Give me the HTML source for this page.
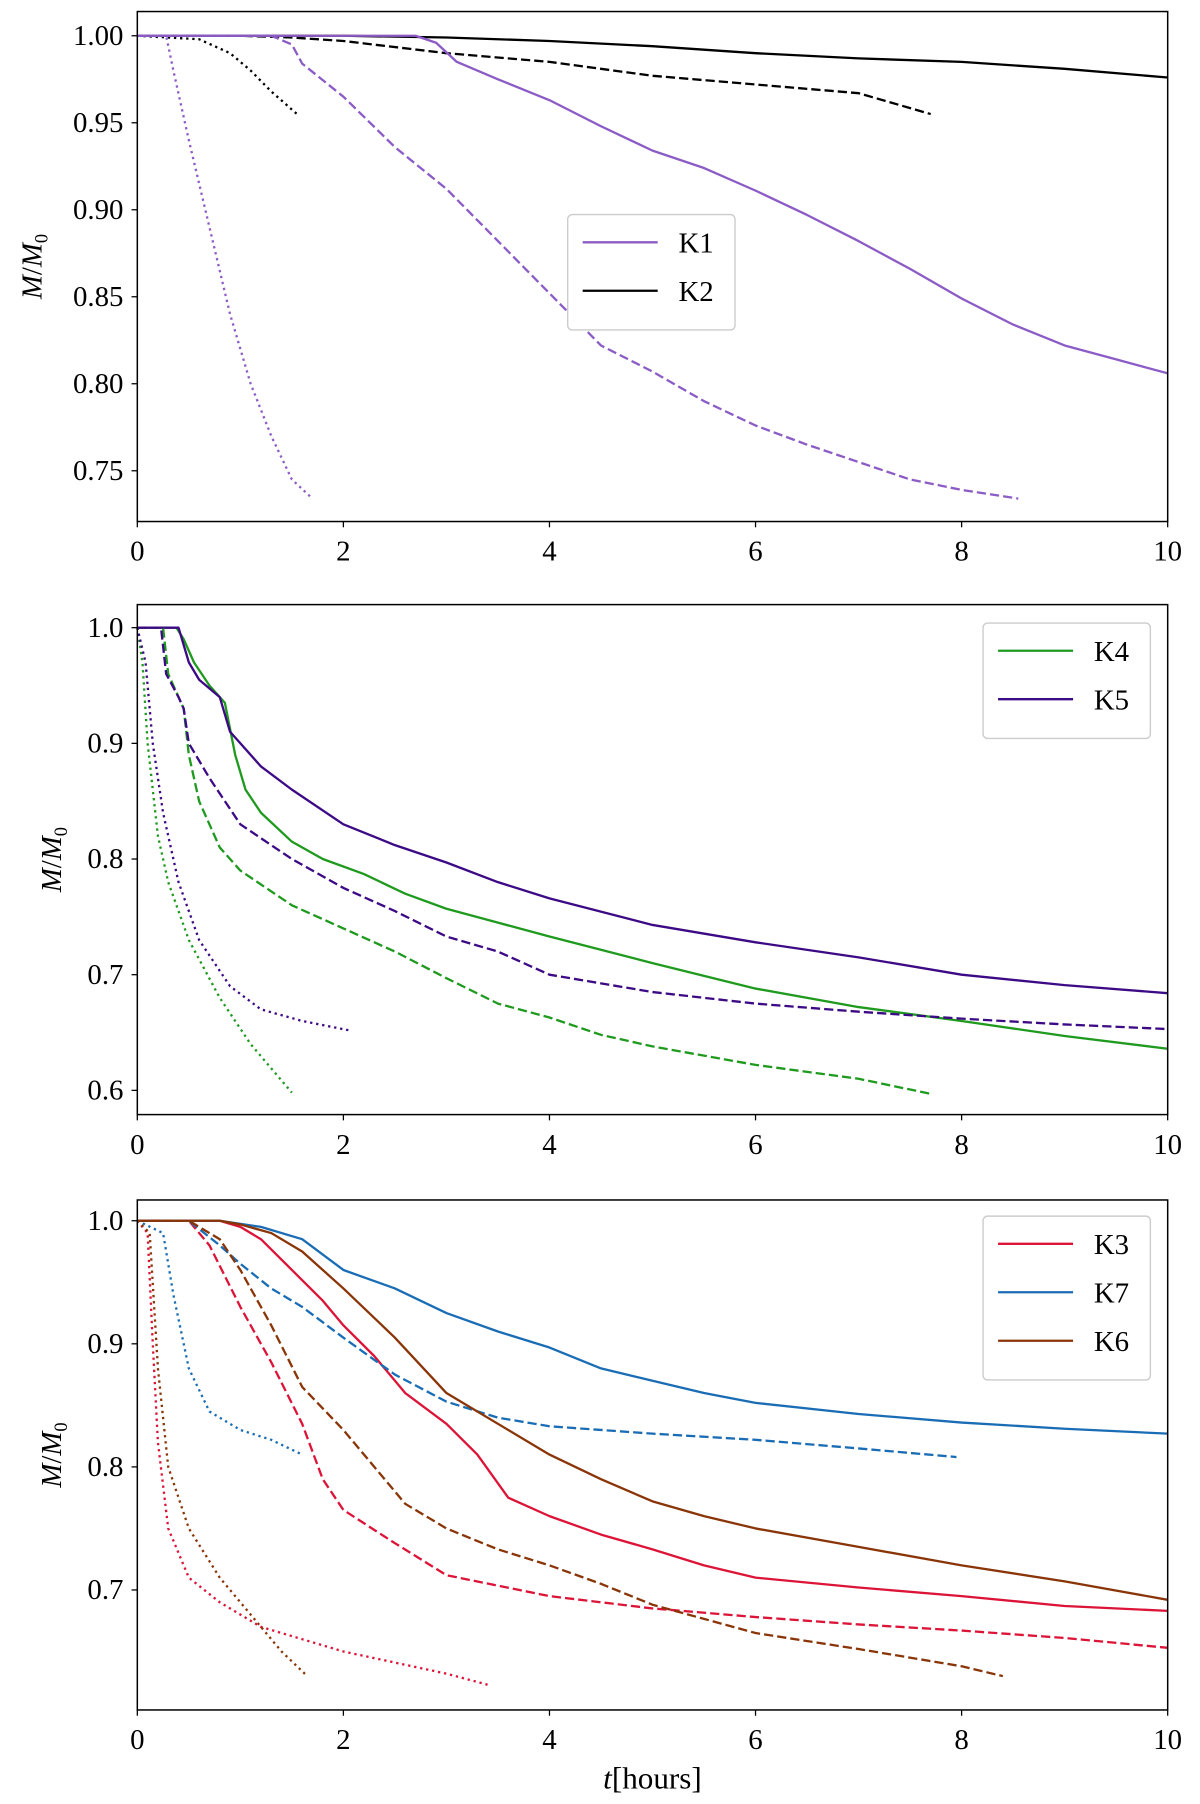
<!DOCTYPE html>
<html><head><meta charset="utf-8"><style>
html,body{margin:0;padding:0;background:#fff}
svg{display:block}
text{font-family:"Liberation Serif",serif;fill:#000}
</style></head><body>
<svg id="chart" width="1200" height="1804" viewBox="0 0 1040 1563.5" xmlns="http://www.w3.org/2000/svg"></svg>
<script>
// ---- data ----
const xTicks = [0,2,4,6,8,10];
const p1YTicks = [1.00,0.95,0.90,0.85,0.80,0.75];
const p1YLabels = ["1.00","0.95","0.90","0.85","0.80","0.75"];
const p2YTicks = [1.0,0.9,0.8,0.7,0.6];
const p2YLabels = ["1.0","0.9","0.8","0.7","0.6"];
const p3YTicks = [1.0,0.9,0.8,0.7];
const p3YLabels = ["1.0","0.9","0.8","0.7"];

const k2Solid = [[0,1],[2,1.0],[3,0.999],[4,0.997],[5,0.994],[6,0.99],[7,0.987],[8,0.985],[9,0.981],[10,0.976]];
const k2Dashed = [[0,1],[1,1.0],[1.5,0.999],[2,0.997],[3,0.99],[4,0.985],[5,0.977],[6,0.972],[7,0.967],[7.7,0.955]];
const k2Dotted = [[0,1],[0.6,0.998],[0.9,0.99],[1.1,0.98],[1.3,0.968],[1.55,0.955]];
const k1Solid = [[0,1],[2.7,1.0],[2.9,0.996],[3.1,0.985],[3.5,0.975],[4,0.963],[4.5,0.948],[5,0.934],[5.5,0.924],[6,0.911],[6.5,0.897],[7,0.882],[7.5,0.866],[8,0.849],[8.5,0.834],[9,0.822],[9.5,0.814],[10,0.806]];
const k1Dashed = [[0,1],[1.3,1.0],[1.5,0.995],[1.6,0.984],[2,0.965],[2.5,0.936],[3,0.912],[3.5,0.882],[4,0.852],[4.5,0.822],[5,0.807],[5.5,0.79],[6,0.776],[6.5,0.765],[7,0.755],[7.5,0.745],[8,0.739],[8.55,0.734]];
const k1Dotted = [[0,1],[0.28,1.0],[0.35,0.98],[0.5,0.94],[0.7,0.89],[0.9,0.84],[1.1,0.8],[1.3,0.77],[1.5,0.745],[1.7,0.734]];

const k4Solid = [[0,1],[0.38,1.0],[0.45,0.99],[0.55,0.97],[0.7,0.95],[0.85,0.935],[0.95,0.89],[1.05,0.86],[1.2,0.84],[1.5,0.815],[1.8,0.8],[2.2,0.787],[2.6,0.77],[3,0.757],[3.5,0.745],[4,0.733],[5,0.71],[6,0.688],[7,0.672],[8,0.66],[9,0.647],[10,0.636]];
const k5Solid = [[0,1],[0.4,1.0],[0.5,0.97],[0.6,0.955],[0.8,0.94],[0.9,0.91],[1.2,0.88],[1.5,0.86],[2,0.83],[2.5,0.812],[3,0.797],[3.5,0.78],[4,0.766],[5,0.743],[6,0.728],[7,0.715],[8,0.7],[9,0.691],[10,0.684]];
const k4Dashed = [[0,1],[0.25,1.0],[0.3,0.96],[0.4,0.94],[0.45,0.93],[0.5,0.89],[0.6,0.85],[0.8,0.81],[1,0.79],[1.5,0.76],[2,0.74],[2.5,0.72],[3,0.697],[3.5,0.675],[4,0.663],[4.5,0.648],[5,0.638],[6,0.622],[7,0.61],[7.7,0.597]];
const k5Dashed = [[0,1],[0.23,1.0],[0.28,0.96],[0.4,0.94],[0.45,0.93],[0.5,0.9],[0.7,0.87],[1,0.83],[1.5,0.8],[2,0.775],[2.5,0.755],[3,0.733],[3.5,0.72],[4,0.7],[5,0.685],[6,0.675],[7,0.668],[8,0.662],[9,0.657],[10,0.653]];
const k4Dotted = [[0,1],[0.05,0.97],[0.1,0.9],[0.2,0.82],[0.3,0.78],[0.5,0.73],[0.8,0.68],[1.1,0.64],[1.5,0.598]];
const k5Dotted = [[0,1],[0.08,0.97],[0.15,0.9],[0.25,0.84],[0.4,0.78],[0.6,0.73],[0.9,0.69],[1.2,0.67],[1.6,0.66],[2.05,0.652]];

const k3Solid = [[0,1],[0.8,1.0],[1.0,0.995],[1.2,0.985],[1.5,0.96],[1.8,0.935],[2,0.915],[2.3,0.89],[2.6,0.86],[3,0.835],[3.3,0.81],[3.6,0.775],[4,0.76],[4.5,0.745],[5,0.733],[5.5,0.72],[6,0.71],[7,0.702],[8,0.695],[9,0.687],[10,0.683]];
const k3Dashed = [[0,1],[0.5,1.0],[0.7,0.98],[1,0.93],[1.3,0.885],[1.6,0.835],[1.8,0.79],[2,0.765],[2.5,0.738],[3,0.712],[4,0.695],[5,0.685],[6,0.678],[7,0.672],[8,0.667],[9,0.661],[10,0.653]];
const k3Dotted = [[0,1],[0.1,0.99],[0.15,0.9],[0.2,0.82],[0.3,0.75],[0.5,0.71],[0.8,0.69],[1.2,0.67],[2,0.65],[3,0.632],[3.4,0.623]];
const k7Solid = [[0,1],[0.8,1.0],[1.2,0.995],[1.6,0.985],[2,0.96],[2.5,0.945],[3,0.925],[3.5,0.91],[4,0.897],[4.5,0.88],[5,0.87],[5.5,0.86],[6,0.852],[7,0.843],[8,0.836],[9,0.831],[10,0.827]];
const k7Dashed = [[0,1],[0.5,1.0],[0.8,0.98],[1,0.965],[1.3,0.945],[1.6,0.93],[2,0.905],[2.5,0.875],[3,0.853],[3.5,0.84],[4,0.833],[5,0.827],[6,0.822],[7,0.815],[7.95,0.808]];
const k7Dotted = [[0,1],[0.25,0.99],[0.35,0.94],[0.5,0.88],[0.7,0.845],[1,0.83],[1.3,0.822],[1.6,0.81]];
const k6Solid = [[0,1],[0.8,1.0],[1,0.997],[1.3,0.99],[1.6,0.975],[2,0.945],[2.5,0.905],[3,0.86],[3.5,0.835],[4,0.81],[4.5,0.79],[5,0.772],[5.5,0.76],[6,0.75],[7,0.735],[8,0.72],[9,0.707],[10,0.692]];
const k6Dashed = [[0,1],[0.5,1.0],[0.8,0.985],[1,0.96],[1.3,0.915],[1.6,0.865],[2,0.83],[2.3,0.8],[2.6,0.77],[3,0.75],[3.5,0.733],[4,0.72],[4.5,0.705],[5,0.688],[6,0.665],[7,0.652],[8,0.638],[8.4,0.63]];
const k6Dotted = [[0,1],[0.12,0.99],[0.2,0.88],[0.3,0.8],[0.5,0.75],[0.8,0.71],[1.1,0.68],[1.4,0.65],[1.65,0.63]];

// ---- drawing ----
const NS = "http://www.w3.org/2000/svg";
const svg = document.getElementById('chart');
const C = {k1:"#8c5cc6",k2:"#000000",k4:"#1f9a1f",k5:"#3d0a85",k3:"#dc1438",k7:"#1a6db5",k6:"#8a3508"};
const DASH = {solid:null, dashed:"8,3.5", dotted:"2,3.3"};
function el(tag, attrs, parent){const e=document.createElementNS(NS,tag);for(const k in attrs)e.setAttribute(k,attrs[k]);(parent||svg).appendChild(e);return e;}

const X0=119, X1=1012;
const xScale = v => X0 + v/10*(X1-X0);

function panel(name, top, bottom, yA, yB, pA, pB, yTicks, yLabels, series, legend, showXLabel){
  const g = el('g',{});
  
  
  const yScale = v => pA + (v - yA)/(yB - yA)*(pB - pA);
  series.forEach(s=>{
    const d = s.data.map((p,i)=>(i?'L':'M')+xScale(p[0]).toFixed(2)+','+yScale(p[1]).toFixed(2)).join('');
    const a = {d:d, fill:'none', stroke:C[s.key], 'stroke-width':2, 'stroke-linejoin':'round'};
    if(DASH[s.style]) a['stroke-dasharray']=DASH[s.style];
    const path = el('path', a, g);
    
    
  });
  const frame = el('rect',{x:X0,y:top,width:X1-X0,height:bottom-top,fill:'none',stroke:'#000','stroke-width':1.3},g);
  
  
  xTicks.forEach(t=>{
    el('line',{x1:xScale(t),x2:xScale(t),y1:bottom,y2:bottom+5,stroke:'#000','stroke-width':1.1},g);
    const tx = el('text',{x:xScale(t),y:bottom+34,'text-anchor':'middle','font-size':25},g);
    tx.textContent = String(t);
    
    
  });
  yTicks.forEach((t,i)=>{
    const y = yScale(t);
    el('line',{x1:X0-5,x2:X0,y1:y,y2:y,stroke:'#000','stroke-width':1.1},g);
    const ty = el('text',{x:X0-12,y:y+8,'text-anchor':'end','font-size':25},g);
    ty.textContent = yLabels[i];
    
    
  });
  const cy=(top+bottom)/2;
  const yl = el('text',{x:0,y:0,'text-anchor':'middle','font-size':25,transform:'translate('+(name==='panel-top'?36:53)+','+cy+') rotate(-90)'},g);
  yl.innerHTML = '<tspan font-style="italic">M</tspan>/<tspan font-style="italic">M</tspan><tspan font-size="16" dy="5">0</tspan>';
  
  
  const lg = el('g',{},g);
  
  
  el('rect',{x:legend.x,y:legend.y,width:145,height:16+legend.items.length*42,rx:4,fill:'#fff',stroke:'#ccc','stroke-width':1.2},lg);
  legend.items.forEach((it,i)=>{
    const ly = legend.y+24+i*42;
    el('line',{x1:legend.x+13,x2:legend.x+78,y1:ly,y2:ly,stroke:C[it.key],'stroke-width':2},lg);
    const lt = el('text',{x:legend.x+96,y:ly+9,'font-size':25},lg);
    lt.textContent = it.label;
    
    
  });
  if(showXLabel){
    const xl = el('text',{x:(X0+X1)/2,y:1550,'text-anchor':'middle','font-size':27},g);
    xl.innerHTML='<tspan font-style="italic">t</tspan>[hours]';
    
    
  }
}

panel('panel-top',10,452,1.00,0.75,31,408,p1YTicks,p1YLabels,[
  {key:'k2',style:'solid',data:k2Solid},{key:'k2',style:'dashed',data:k2Dashed},{key:'k2',style:'dotted',data:k2Dotted},
  {key:'k1',style:'solid',data:k1Solid},{key:'k1',style:'dashed',data:k1Dashed},{key:'k1',style:'dotted',data:k1Dotted}
],{x:492,y:186,items:[{key:'k1',label:'K1'},{key:'k2',label:'K2'}]},false);

panel('panel-middle',524,966,1.0,0.6,544,945,p2YTicks,p2YLabels,[
  {key:'k4',style:'solid',data:k4Solid},{key:'k5',style:'solid',data:k5Solid},
  {key:'k4',style:'dashed',data:k4Dashed},{key:'k5',style:'dashed',data:k5Dashed},
  {key:'k4',style:'dotted',data:k4Dotted},{key:'k5',style:'dotted',data:k5Dotted}
],{x:852,y:540,items:[{key:'k4',label:'K4'},{key:'k5',label:'K5'}]},false);

panel('panel-bottom',1040,1482,1.0,0.7,1058,1378,p3YTicks,p3YLabels,[
  {key:'k3',style:'solid',data:k3Solid},{key:'k3',style:'dashed',data:k3Dashed},{key:'k3',style:'dotted',data:k3Dotted},
  {key:'k7',style:'solid',data:k7Solid},{key:'k7',style:'dashed',data:k7Dashed},{key:'k7',style:'dotted',data:k7Dotted},
  {key:'k6',style:'solid',data:k6Solid},{key:'k6',style:'dashed',data:k6Dashed},{key:'k6',style:'dotted',data:k6Dotted}
],{x:852,y:1054,items:[{key:'k3',label:'K3'},{key:'k7',label:'K7'},{key:'k6',label:'K6'}]},true);
</script>
</body></html>
